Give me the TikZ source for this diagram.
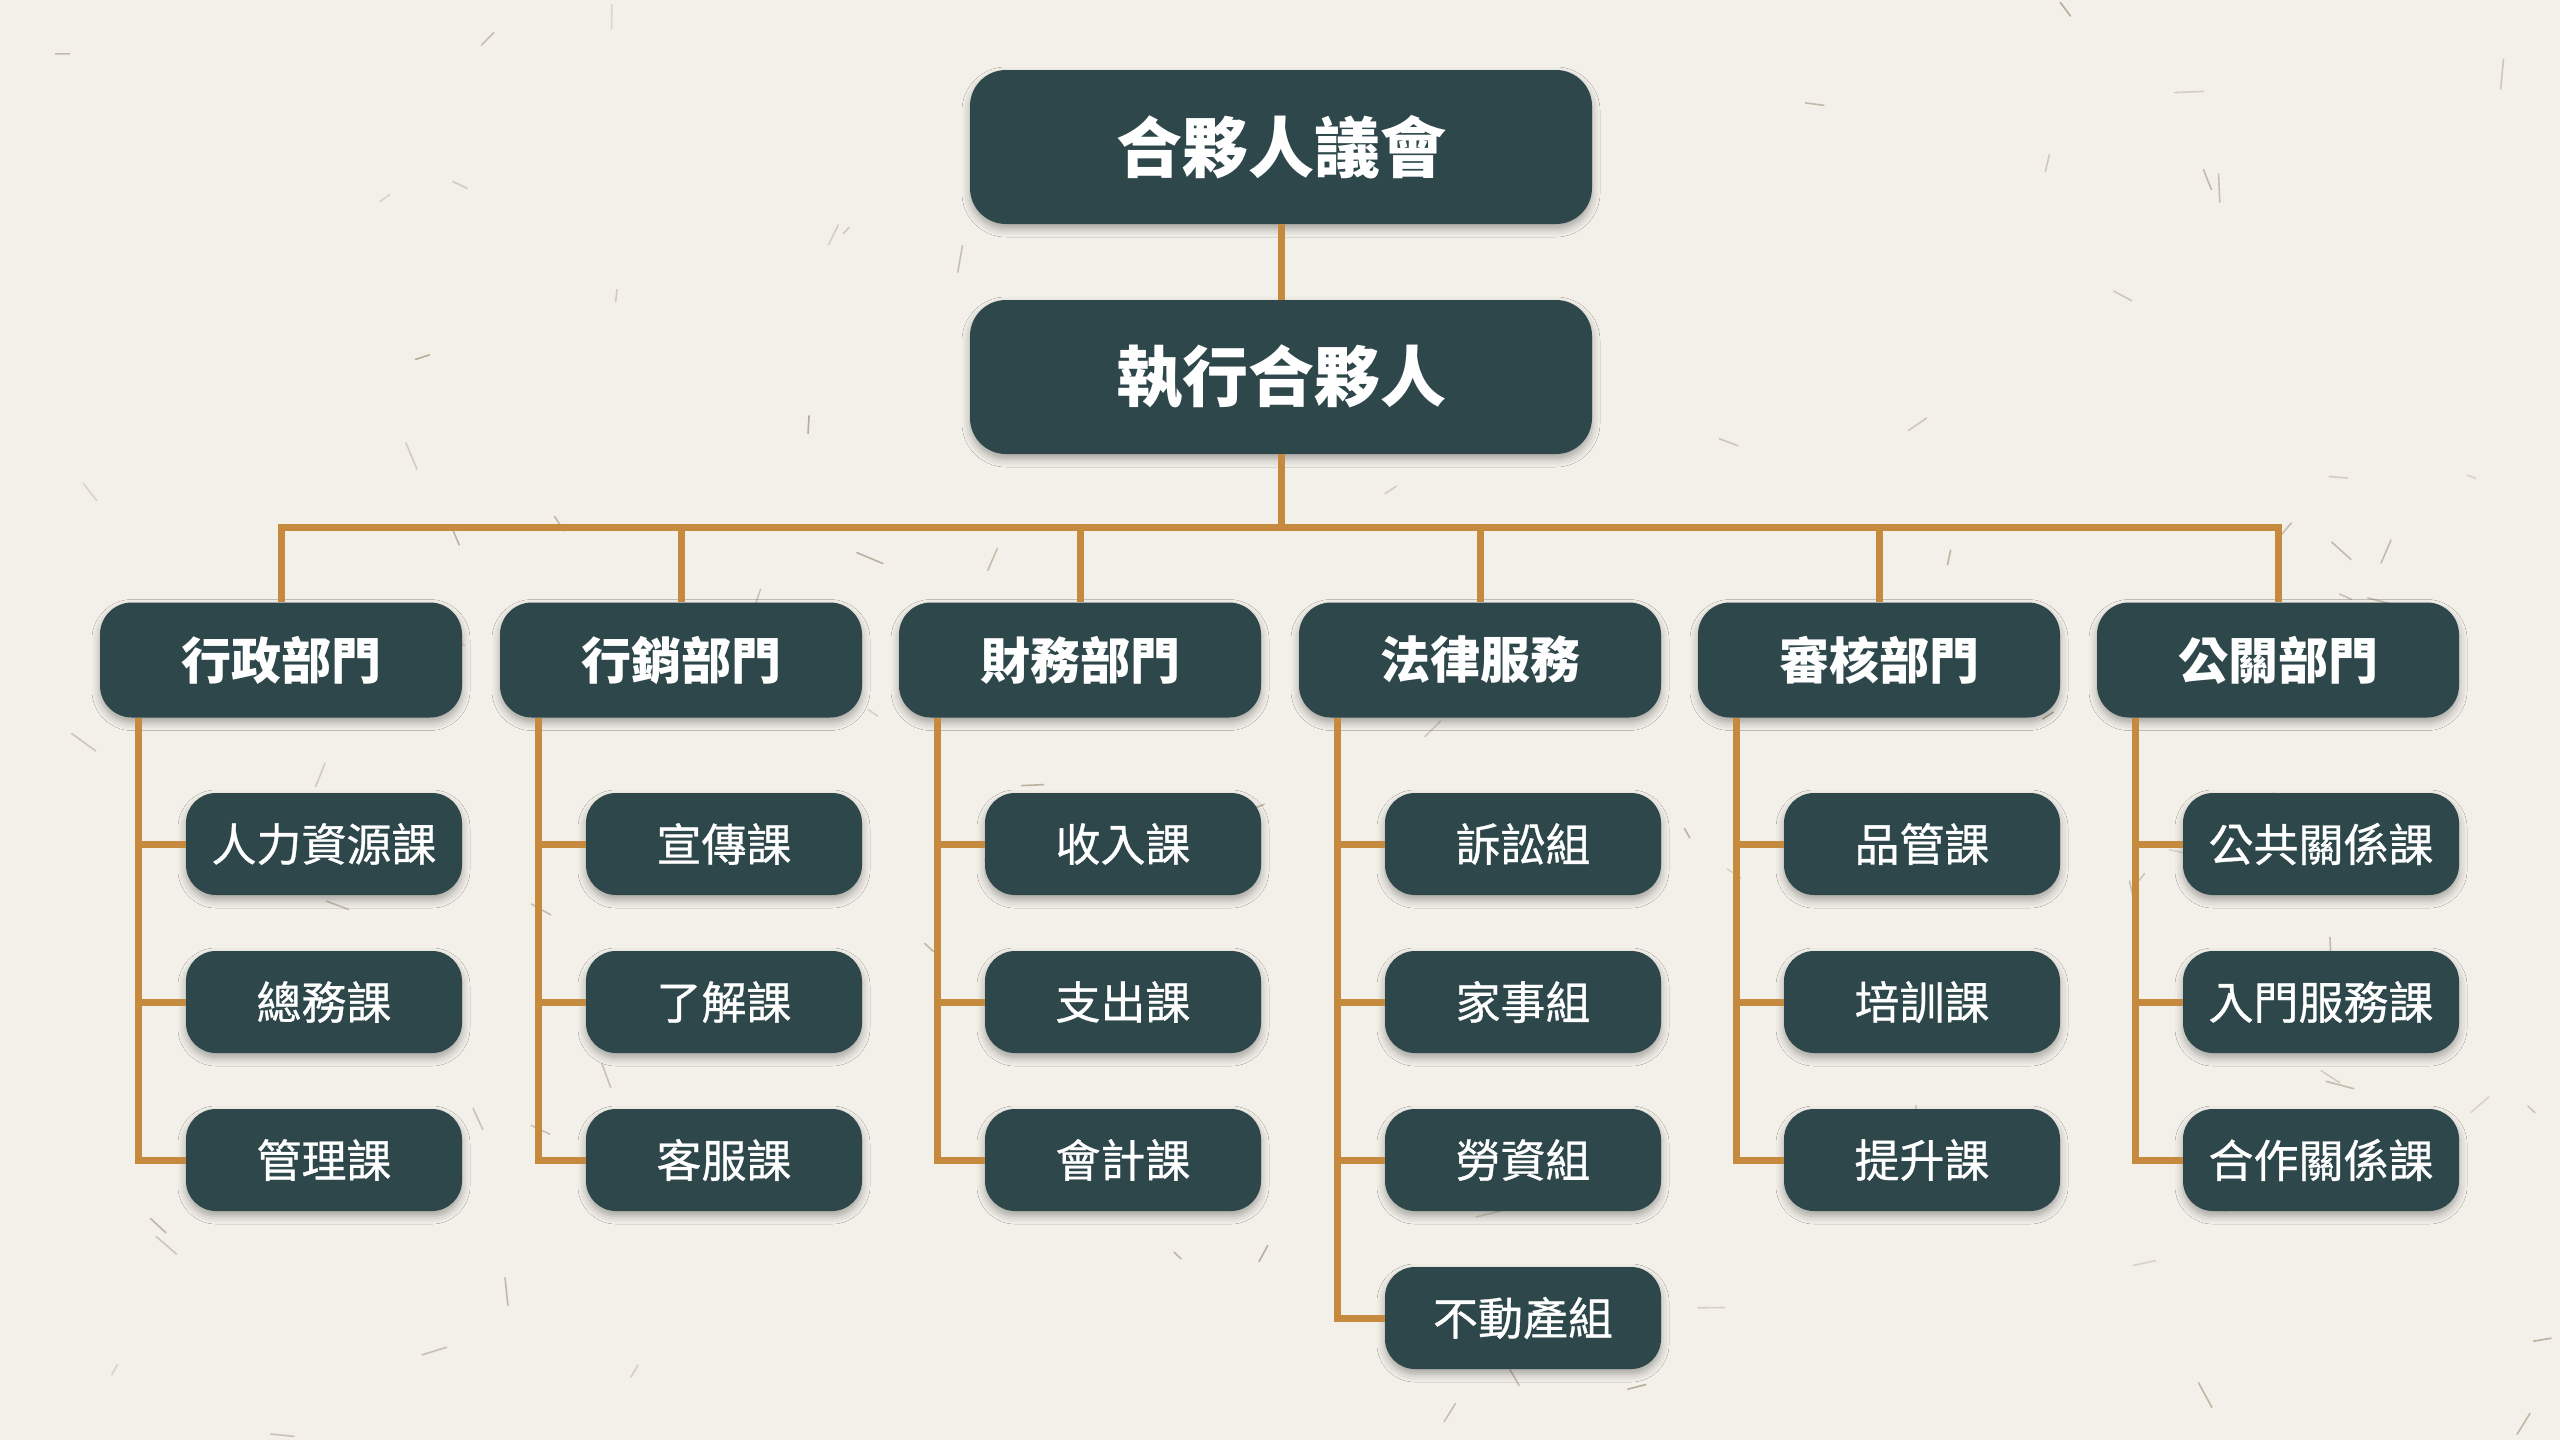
\documentclass[tikz,border=0pt]{standalone}
\usepackage{fontspec}
\newfontfamily\cjk{Noto Sans CJK TC}
\newfontfamily\cjkmid[FakeBold=0.7]{Noto Sans CJK TC}
\usetikzlibrary{shadows.blur}
\definecolor{bg}{HTML}{F3F0EA}
\definecolor{boxc}{HTML}{2E474B}
\definecolor{linec}{HTML}{C68A3F}
\definecolor{speck}{HTML}{9C8E74}
\tikzset{
  boxbase/.style={rectangle, fill=boxc, text=white, inner sep=0pt,
    blur shadow={shadow xshift=0pt, shadow yshift=-5pt, shadow blur radius=8pt, shadow opacity=32}},
  topbox/.style={boxbase, rounded corners=36pt, minimum width=622pt, minimum height=154pt,
    font=\cjk\bfseries\fontsize{66}{70}\selectfont},
  deptbox/.style={boxbase, rounded corners=32pt, minimum width=362pt, minimum height=115pt,
    font=\cjk\bfseries\fontsize{50}{54}\selectfont},
  subbox/.style={boxbase, rounded corners=30pt, minimum width=276pt, minimum height=102pt,
    font=\cjkmid\fontsize{45}{50}\selectfont},
  conn/.style={draw=linec, line width=7pt},
}
\begin{document}
\begin{tikzpicture}[x=1pt,y=-1pt]
\fill[bg] (0,0) rectangle (2560,1440);
\useasboundingbox (0,0) rectangle (2560,1440);
% paper specks
\pgfmathsetseed{4217}
\foreach \i in {1,...,110}{
  \pgfmathsetmacro\sx{rnd*2560}
  \pgfmathsetmacro\sy{rnd*1440}
  \pgfmathsetmacro\sa{rnd*180}
  \pgfmathsetmacro\sl{8+rnd*22}
  \pgfmathsetmacro\so{0.25+rnd*0.45}
  \draw[speck, opacity=\so, line width=1.6pt, line cap=round] (\sx,\sy) -- ++(\sa:\sl);
}
% top level
\node[topbox] (p0) at (1281,147) {合夥人議會};
\node[topbox] (p1) at (1281,377) {執行合夥人};
\coordinate (bus) at (1281,527);
% departments
\node[deptbox] (d1) at (281,660) {行政部門};
\node[deptbox] (d2) at (681,660) {行銷部門};
\node[deptbox] (d3) at (1080,660) {財務部門};
\node[deptbox] (d4) at (1480,660) {法律服務};
\node[deptbox] (d5) at (1879,660) {審核部門};
\node[deptbox] (d6) at (2278,660) {公關部門};
% sections
\node[subbox] (s11) at (324,844) {人力資源課};
\node[subbox] (s12) at (324,1002) {總務課};
\node[subbox] (s13) at (324,1160) {管理課};
\node[subbox] (s21) at (724,844) {宣傳課};
\node[subbox] (s22) at (724,1002) {了解課};
\node[subbox] (s23) at (724,1160) {客服課};
\node[subbox] (s31) at (1123,844) {收入課};
\node[subbox] (s32) at (1123,1002) {支出課};
\node[subbox] (s33) at (1123,1160) {會計課};
\node[subbox] (s41) at (1523,844) {訴訟組};
\node[subbox] (s42) at (1523,1002) {家事組};
\node[subbox] (s43) at (1523,1160) {勞資組};
\node[subbox] (s44) at (1523,1318) {不動產組};
\node[subbox] (s51) at (1922,844) {品管課};
\node[subbox] (s52) at (1922,1002) {培訓課};
\node[subbox] (s53) at (1922,1160) {提升課};
\node[subbox] (s61) at (2321,844) {公共關係課};
\node[subbox] (s62) at (2321,1002) {入門服務課};
\node[subbox] (s63) at (2321,1160) {合作關係課};
% connectors
\draw[conn] (p0.south) -- (p1.north);
\draw[conn] (p1.south) -- (bus);
\draw[conn] (d1.north) -- (d1.north |- bus) -- (d6.north |- bus) -- (d6.north);
\foreach \d in {d2,d3,d4,d5}{
  \draw[conn] (\d.north) -- (\d.north |- bus);
}
\foreach \d/\last/\list in {d1/s13/{s11,s12}, d2/s23/{s21,s22}, d3/s33/{s31,s32},
                           d4/s44/{s41,s42,s43}, d5/s53/{s51,s52}, d6/s63/{s61,s62}}{
  \coordinate (sp-\d) at ([xshift=39pt]\d.south west);
  \draw[conn] (sp-\d) |- (\last.west);
  \foreach \s in \list{
    \draw[conn] (\s.west -| sp-\d) -- (\s.west);
  }
}
\end{tikzpicture}
\end{document}
